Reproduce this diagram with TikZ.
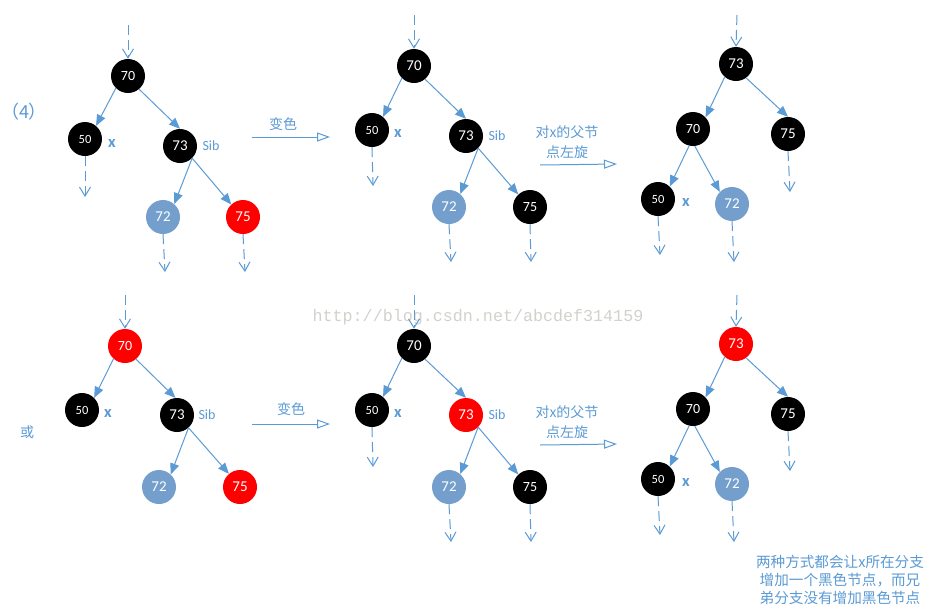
\documentclass[tikz,border=0pt]{standalone}
\usepackage{fontspec}
\setmainfont{Carlito}
\newfontfamily\cjk{Noto Sans CJK SC}
\newfontfamily\wmfont{Liberation Mono}
\usetikzlibrary{arrows.meta}
\definecolor{lblue}{RGB}{91,155,213}
\definecolor{gnode}{RGB}{116,159,205}
\definecolor{rnode}{RGB}{255,0,0}
\definecolor{wmgray}{RGB}{210,210,205}
\tikzset{
  rbnode/.style={circle, minimum size=34pt, inner sep=0pt, text=white, font=\fontsize{15}{15}\selectfont},
  blknode/.style={rbnode, fill=black},
  rednode/.style={rbnode, fill=rnode},
  grynode/.style={rbnode, fill=gnode},
  smallnum/.style={font=\fontsize{12.5}{13}\selectfont},
  midnum/.style={font=\fontsize{14}{14}\selectfont},
  treeedge/.style={draw=lblue, line width=1pt, -{Triangle[length=11pt,width=9pt]}},
  dsh/.style={draw=lblue, line width=1pt, dash pattern=on 10pt off 5pt, -{Straight Barb[length=9pt,width=11pt]}},
  openarr/.style={draw=lblue, line width=1pt, -{Triangle[open,length=13pt,width=9pt]}},
  lbl/.style={text=lblue, font=\cjk\fontsize{14}{20}\selectfont, align=center, inner sep=0pt},
  notelbl/.style={text=lblue, font=\cjk\fontsize{14.6}{18}\selectfont, align=center, inner sep=0pt},
  xlbl/.style={text=lblue, font=\bfseries\fontsize{16.5}{16}\selectfont, inner sep=0pt},
  siblbl/.style={text=lblue, font=\fontsize{14}{14}\selectfont, inner sep=0pt},
}
\begin{document}
\begin{tikzpicture}[x=1pt,y=-1pt]
\useasboundingbox (0,0) rectangle (937,614);
\fill[white] (0,0) rectangle (937,614);

% watermark
\node[text=wmgray, font=\wmfont\fontsize{16.7}{17}\selectfont, inner sep=0pt] (wm) at (478,317) {http://blog.csdn.net/abcdef314159};

% side labels
\node[text=lblue, font=\cjk\fontsize{18}{18}\selectfont, inner sep=0pt] (num4) at (24,112) {（4）};
\node[lbl] (huo) at (27,432) {或};

%%%%%%%% Panel A (top-left)
\node[blknode,midnum] (a70) at (128,76) {70};
\node[blknode,smallnum] (a50) at (85,139) {50};
\node[blknode] (a73) at (180,146) {73};
\node[grynode] (a72) at (163,217) {72};
\node[rednode] (a75) at (243,217) {75};
\node[xlbl] (ax) at (112,143) {x};
\node[siblbl] (asib) at (211,146) {Sib};
\coordinate (ain) at (128,25);
\coordinate (a50o) at (85,197);
\coordinate (a72o) at (165,272);
\coordinate (a75o) at (245,272);
\draw[dsh] (ain) -- (a70.north);
\draw[treeedge] (a70.225) -- (a50.50);
\draw[treeedge] (a70.310) -- (a73.north);
\draw[treeedge] (a73.315) -- (a72.49);
\draw[treeedge] (a73.315) -- (a75.133);
\draw[dsh] (a50.south) -- (a50o);
\draw[dsh] (a72.south) -- (a72o);
\draw[dsh] (a75.south) -- (a75o);

% arrow A->B
\coordinate (ab1) at (252,137);
\coordinate (ab2) at (330,137);
\draw[openarr] (ab1) -- (ab2);
\node[lbl] (abt) at (283,124) {变色};

%%%%%%%% Panel B (top-middle)
\node[blknode] (b70) at (414,66) {70};
\node[blknode,smallnum] (b50) at (372,130) {50};
\node[blknode] (b73) at (466,136) {73};
\node[grynode] (b72) at (449,207) {72};
\node[blknode,midnum] (b75) at (530,207) {75};
\node[xlbl] (bx) at (398,133) {x};
\node[siblbl] (bsib) at (497,136) {Sib};
\coordinate (bin) at (414,15);
\coordinate (b50o) at (373,186);
\coordinate (b72o) at (451,262);
\coordinate (b75o) at (531,262);
\draw[dsh] (bin) -- (b70.north);
\draw[treeedge] (b70.225) -- (b50.50);
\draw[treeedge] (b70.310) -- (b73.north);
\draw[treeedge] (b73.315) -- (b72.49);
\draw[treeedge] (b73.315) -- (b75.133);
\draw[dsh] (b50.south) -- (b50o);
\draw[dsh] (b72.south) -- (b72o);
\draw[dsh] (b75.south) -- (b75o);

% arrow B->C
\coordinate (bc1) at (540,165);
\coordinate (bc2) at (617,164);
\draw[openarr] (bc1) -- (bc2);
\node[lbl] (bct) at (567,142) {对x的父节\\点左旋};

%%%%%%%% Panel C (top-right)
\node[blknode] (c73) at (736,64) {73};
\node[blknode,midnum] (c70) at (693,129) {70};
\node[blknode] (c75) at (788,134) {75};
\node[blknode,smallnum] (c50) at (658,199) {50};
\node[grynode] (c72) at (732,204) {72};
\node[xlbl] (cx) at (686,202) {x};
\coordinate (cin) at (737,15);
\coordinate (c75o) at (790,192);
\coordinate (c50o) at (660,255);
\coordinate (c72o) at (734,262);
\draw[dsh] (cin) -- (c73.north);
\draw[treeedge] (c73.229) -- (c70.43);
\draw[treeedge] (c73.306) -- (c75.north);
\draw[treeedge] (c70.257) -- (c50.47);
\draw[treeedge] (c70.276) -- (c72.135);
\draw[dsh] (c75.south) -- (c75o);
\draw[dsh] (c50.south) -- (c50o);
\draw[dsh] (c72.south) -- (c72o);

%%%%%%%% Panel D (bottom-left)
\node[rednode,midnum] (d70) at (125,346) {70};
\node[blknode,smallnum] (d50) at (82,410) {50};
\node[blknode] (d73) at (177,415) {73};
\node[grynode] (d72) at (159,487) {72};
\node[rednode] (d75) at (240,487) {75};
\node[xlbl] (dx) at (108,413) {x};
\node[siblbl] (dsib) at (207,415) {Sib};
\coordinate (din) at (125,295);
\draw[dsh] (din) -- (d70.north);
\draw[treeedge] (d70.228) -- (d50.45);
\draw[treeedge] (d70.310) -- (d73.95);
\draw[treeedge] (d73.312) -- (d72.47);
\draw[treeedge] (d73.312) -- (d75.130);

% arrow D->E
\coordinate (de1) at (252,424);
\coordinate (de2) at (330,424);
\draw[openarr] (de1) -- (de2);
\node[lbl] (det) at (291,409) {变色};

%%%%%%%% Panel E (bottom-middle)
\node[blknode] (e70) at (414,346) {70};
\node[blknode,smallnum] (e50) at (372,410) {50};
\node[rednode] (e73) at (466,415) {73};
\node[grynode] (e72) at (449,487) {72};
\node[blknode,midnum] (e75) at (530,487) {75};
\node[xlbl] (ex) at (398,413) {x};
\node[siblbl] (esib) at (497,415) {Sib};
\coordinate (ein) at (414,295);
\coordinate (e50o) at (373,467);
\coordinate (e72o) at (451,542);
\coordinate (e75o) at (531,542);
\draw[dsh] (ein) -- (e70.north);
\draw[treeedge] (e70.225) -- (e50.50);
\draw[treeedge] (e70.310) -- (e73.north);
\draw[treeedge] (e73.315) -- (e72.49);
\draw[treeedge] (e73.315) -- (e75.133);
\draw[dsh] (e50.south) -- (e50o);
\draw[dsh] (e72.south) -- (e72o);
\draw[dsh] (e75.south) -- (e75o);

% arrow E->F
\coordinate (ef1) at (540,445);
\coordinate (ef2) at (617,444);
\draw[openarr] (ef1) -- (ef2);
\node[lbl] (eft) at (567,422) {对x的父节\\点左旋};

%%%%%%%% Panel F (bottom-right)
\node[rednode] (f73) at (736,344) {73};
\node[blknode,midnum] (f70) at (693,409) {70};
\node[blknode] (f75) at (788,414) {75};
\node[blknode,smallnum] (f50) at (658,479) {50};
\node[grynode] (f72) at (732,484) {72};
\node[xlbl] (fx) at (686,482) {x};
\coordinate (fin) at (737,295);
\coordinate (f75o) at (790,471);
\coordinate (f50o) at (660,535);
\coordinate (f72o) at (734,542);
\draw[dsh] (fin) -- (f73.north);
\draw[treeedge] (f73.229) -- (f70.43);
\draw[treeedge] (f73.306) -- (f75.north);
\draw[treeedge] (f70.257) -- (f50.47);
\draw[treeedge] (f70.276) -- (f72.135);
\draw[dsh] (f75.south) -- (f75o);
\draw[dsh] (f50.south) -- (f50o);
\draw[dsh] (f72.south) -- (f72o);

% note
\node[notelbl] (note) at (840,580) {两种方式都会让x所在分支\\增加一个黑色节点，而兄\\弟分支没有增加黑色节点};
\end{tikzpicture}
\end{document}
